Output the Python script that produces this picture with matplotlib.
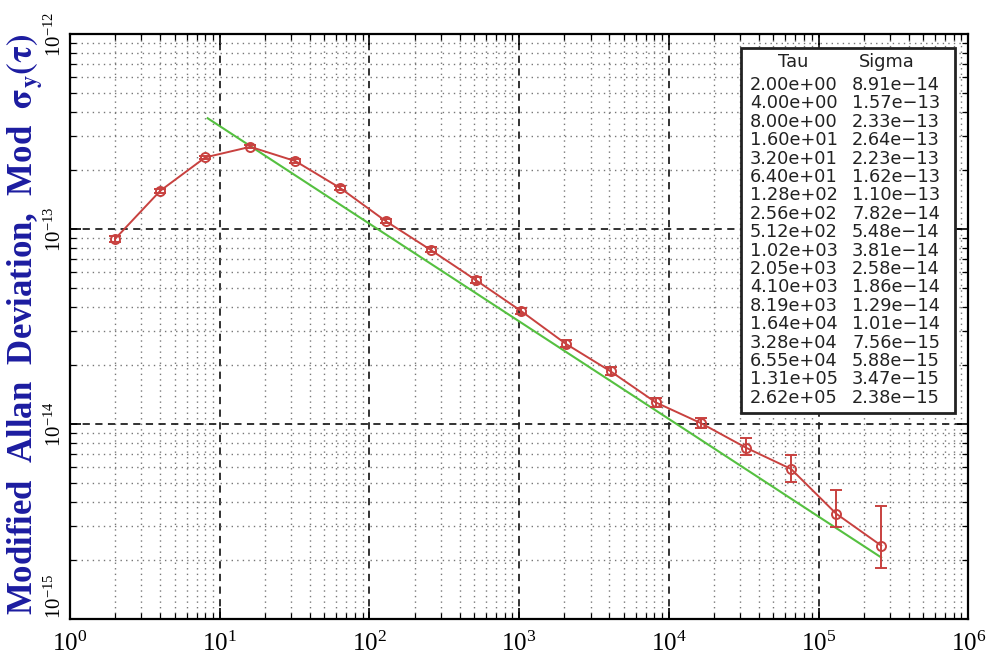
import matplotlib
matplotlib.use('Agg')
import matplotlib.pyplot as plt
from matplotlib.patches import Rectangle
from matplotlib.ticker import LogLocator, NullFormatter
import numpy as np

plt.rcParams['font.family'] = 'Liberation Serif'
plt.rcParams['mathtext.fontset'] = 'stix'

# Averaging times and modified Allan deviation
tau = [2, 4, 8, 16, 32, 64, 128, 256, 512, 1024, 2048, 4096, 8192,
       16384, 32768, 65536, 131072, 262144]
sigma = [8.91e-14, 1.57e-13, 2.33e-13, 2.64e-13, 2.23e-13, 1.62e-13,
         1.10e-13, 7.82e-14, 5.48e-14, 3.81e-14, 2.58e-14, 1.86e-14,
         1.29e-14, 1.01e-14, 7.56e-15, 5.88e-15, 3.47e-15, 2.38e-15]
# confidence interval bounds
sigma_lo = [8.6e-14, 1.53e-13, 2.28e-13, 2.59e-13, 2.18e-13, 1.58e-13,
            1.07e-13, 7.6e-14, 5.3e-14, 3.68e-14, 2.48e-14, 1.78e-14,
            1.23e-14, 0.95e-14, 6.96e-15, 5.04e-15, 2.97e-15, 1.83e-15]
sigma_hi = [9.2e-14, 1.61e-13, 2.38e-13, 2.69e-13, 2.28e-13, 1.66e-13,
            1.13e-13, 8.05e-14, 5.68e-14, 3.95e-14, 2.69e-14, 1.95e-14,
            1.36e-14, 1.07e-14, 8.5e-15, 6.95e-15, 4.6e-15, 3.81e-15]

# tau^-1/2 reference line
fit_tau = [8.3, 2.62e5]
fit_sigma = [3.7e-13, 2.07e-15]

y_decades = [1e-15, 1e-14, 1e-13, 1e-12]

red = '#c8413f'
green = '#55c040'

fig = plt.figure(figsize=(9.87, 6.61), dpi=100)
ax = fig.add_axes([0.071, 0.0635, 0.91, 0.885])

ax.set_xscale('log')
ax.set_yscale('log')
ax.set_xlim(1, 1e6)
ax.set_ylim(1e-15, 1e-12)
ax.set_yticks(y_decades)

# grid: dashed decades, dotted subdivisions
ax.xaxis.set_minor_locator(LogLocator(base=10, subs=np.arange(2, 10), numticks=20))
ax.yaxis.set_minor_locator(LogLocator(base=10, subs=np.arange(2, 10), numticks=20))
ax.xaxis.set_minor_formatter(NullFormatter())
ax.yaxis.set_minor_formatter(NullFormatter())
ax.grid(True, which='major', color='#222222', linestyle=(0, (4, 3)), linewidth=1.3)
ax.grid(True, which='minor', color='#777777', linestyle=(0, (1, 3)), linewidth=1.0)
ax.set_axisbelow(True)

ax.plot(fit_tau, fit_sigma, color=green, linewidth=1.5, zorder=3)

s = np.array(sigma)
yerr = [s - np.array(sigma_lo), np.array(sigma_hi) - s]
ax.errorbar(tau, sigma, yerr=yerr, color=red, linewidth=1.4, marker='o',
            markersize=6.5, markerfacecolor='none', markeredgecolor=red,
            markeredgewidth=1.4, ecolor=red, elinewidth=1.4, capsize=4,
            capthick=1.4, zorder=4)

for side in ax.spines.values():
    side.set_linewidth(1.6)
ax.tick_params(which='both', direction='in', top=True, right=True)
ax.tick_params(which='major', length=8, width=1.2)
ax.tick_params(which='minor', length=4, width=0.9)
ax.tick_params(axis='x', labelsize=18, pad=9)
ax.tick_params(axis='y', labelsize=15, pad=3, labelrotation=90)
ytk = ax.yaxis.get_major_ticks()
for t in ytk:
    t.label1.set_va('center')
ytk[0].label1.set_va('bottom')   # keep 10^-15 clear of the x labels

fig.text(0.026, 0.51, r'Modified  Allan  Deviation,  Mod  $\mathbf{\sigma_y(\tau)}$',
         rotation=90, ha='center', va='center', fontsize=25,
         fontweight='bold', color='#1c1ca0')

# results table in the upper right corner
W, H = 987, 661
ax_tab = fig.add_axes([0, 0, 1, 1], facecolor='none')
ax_tab.set_xlim(0, W)
ax_tab.set_ylim(H, 0)
ax_tab.axis('off')
ax_tab.add_patch(Rectangle((741, 48), 214, 365, facecolor='white',
                           edgecolor='#222222', linewidth=2.0))
tab_font = dict(family='DejaVu Sans', fontsize=12.8, color='#222222')
ax_tab.text(793, 62, 'Tau', ha='center', va='center', **tab_font)
ax_tab.text(887, 62, 'Sigma', ha='center', va='center', **tab_font)
for i, (t, sg) in enumerate(zip(tau, sigma)):
    y = 85 + i * 18.4
    ax_tab.text(750, y, f'{t:.2e}', ha='left', va='center', **tab_font)
    ax_tab.text(852, y, f'{sg:.2e}'.replace('-', '\u2212'), ha='left',
                va='center', **tab_font)

fig.savefig('out.png', dpi=100)
